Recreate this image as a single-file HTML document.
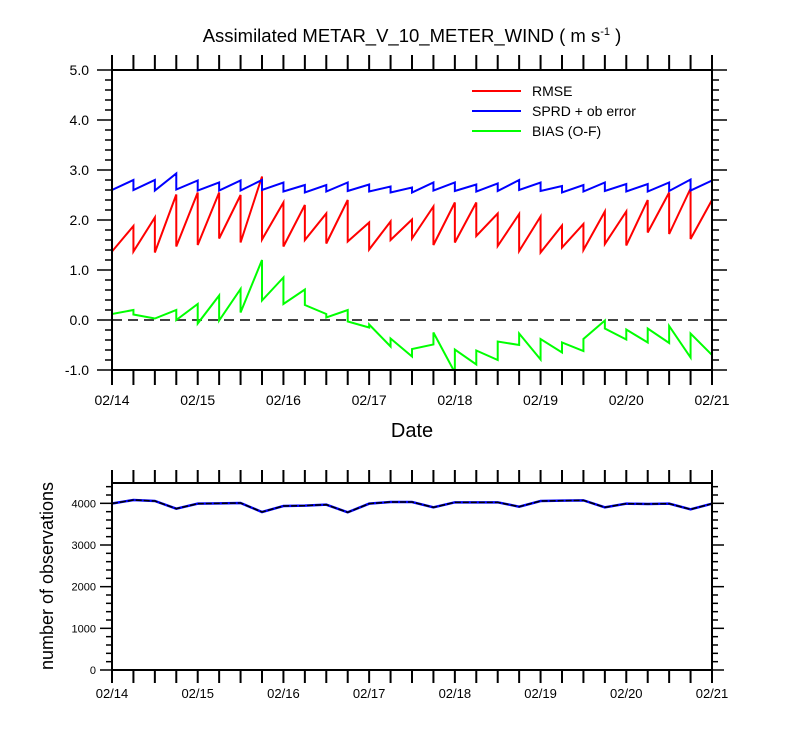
<!DOCTYPE html>
<html><head><meta charset="utf-8">
<style>
html,body{margin:0;padding:0;background:#fff;}
svg{display:block;font-family:"Liberation Sans",Arial,sans-serif;}
</style></head>
<body>
<svg id="chart" width="800" height="750" viewBox="0 0 800 750" xmlns="http://www.w3.org/2000/svg">
  <text x="412" y="42" font-size="18.5" text-anchor="middle">Assimilated METAR_V_10_METER_WIND ( m s<tspan font-size="11" dy="-7">-1</tspan><tspan dy="7"> )</tspan></text>
  <text x="412" y="437" font-size="20" text-anchor="middle">Date</text>
  <text transform="translate(53,576) rotate(-90)" font-size="18" text-anchor="middle">number of observations</text>
  <g id="topPanel"></g>
  <g id="botPanel"></g>
  <g id="legend"></g>
</svg>
<script>
// ---- data (6-hourly cycles, 02/14 00Z to 02/21 00Z) ----
const dateLabels = ["02/14","02/15","02/16","02/17","02/18","02/19","02/20","02/21"];
const yTicksTop = [-1.0,0.0,1.0,2.0,3.0,4.0,5.0];
const yTicksBot = [0,1000,2000,3000,4000];
// prior (forecast) values arriving at each cycle, and posterior values leaving it
const rmsePrior = [1.88,1.88,2.05,2.51,2.55,2.55,2.50,2.87,2.35,2.30,2.13,2.40,1.95,1.97,2.01,2.27,2.35,2.35,2.13,2.12,2.07,1.89,1.92,2.17,2.17,2.40,2.55,2.63,2.40];
const rmsePost  = [1.37,1.37,1.35,1.47,1.50,1.63,1.55,1.61,1.47,1.60,1.53,1.57,1.41,1.60,1.63,1.50,1.55,1.68,1.48,1.38,1.35,1.45,1.40,1.52,1.49,1.75,1.72,1.62,1.48];
const sprdPrior = [2.60,2.80,2.80,2.93,2.79,2.75,2.79,2.80,2.75,2.70,2.70,2.75,2.71,2.67,2.65,2.75,2.75,2.71,2.73,2.80,2.75,2.68,2.70,2.75,2.72,2.72,2.75,2.81,2.79];
const sprdPost  = [2.60,2.60,2.59,2.61,2.59,2.59,2.59,2.60,2.57,2.55,2.57,2.58,2.57,2.55,2.55,2.59,2.58,2.57,2.58,2.60,2.58,2.55,2.57,2.58,2.57,2.57,2.58,2.59,2.79];
const biasPrior = [0.27,0.20,0.03,0.20,0.32,0.49,0.62,1.20,0.85,0.61,0.12,0.20,-0.15,-0.53,-0.73,-0.49,-1.05,-0.89,-0.80,-0.50,-0.79,-0.65,-0.62,-0.01,-0.39,-0.45,-0.46,-0.75,-0.70];
const biasPost  = [0.12,0.11,0.03,0.00,-0.07,-0.01,0.15,0.39,0.32,0.30,0.05,-0.03,-0.09,-0.37,-0.58,-0.25,-0.59,-0.61,-0.43,-0.27,-0.38,-0.45,-0.38,-0.17,-0.19,-0.17,-0.12,-0.27,-0.30];
const obsCount  = [3995,4080,4056,3872,3992,4000,4008,3792,3936,3944,3968,3784,3992,4032,4032,3904,4024,4024,4024,3920,4056,4064,4072,3904,3992,3984,3992,3856,3992];

const NS="http://www.w3.org/2000/svg";
const X0=112, X1=712, NC=28;
const xs = i => X0 + (X1-X0)*i/NC;
const yTop = v => 320 - v*50;
const yBot = v => 670 - v*0.041667;
function mk(parent,tag,attrs){const e=document.createElementNS(NS,tag);for(const k in attrs)e.setAttribute(k,attrs[k]);parent.appendChild(e);return e;}
const topG=document.getElementById('topPanel'), botG=document.getElementById('botPanel'), leg=document.getElementById('legend');

function saw(prior,post){
  let d=`M${xs(0)},${yTop(prior[0])} L${xs(0)},${yTop(post[0])}`;
  for(let i=1;i<=NC;i++){d+=` L${xs(i)},${yTop(prior[i])} L${xs(i)},${yTop(post[i])}`;}
  return d;
}
const defs=mk(document.getElementById('chart'),'defs',{});
const cp=mk(defs,'clipPath',{id:'clipTop'});mk(cp,'rect',{x:X0,y:70,width:X1-X0,height:300});

let z=mk(topG,'line',{x1:X0,x2:X1,y1:yTop(0),y2:yTop(0),stroke:'#444','stroke-width':2,'stroke-dasharray':'10,6'});


const series=[["rmse-line","#ff0000",rmsePrior,rmsePost],["sprd-line","#0000ff",sprdPrior,sprdPost],["bias-line","#00ff00",biasPrior,biasPost]];
series.forEach(s=>{
  const p=mk(topG,'path',{d:saw(s[2],s[3]),fill:'none',stroke:s[1],'stroke-width':2,'clip-path':'url(#clipTop)'});
  
  
});
let f=mk(topG,'rect',{x:X0,y:70,width:X1-X0,height:300,fill:'none',stroke:'#000','stroke-width':2});


for(let i=0;i<=NC;i++){
  mk(topG,'line',{x1:xs(i),x2:xs(i),y1:70,y2:55,stroke:'#000','stroke-width':2});
  mk(topG,'line',{x1:xs(i),x2:xs(i),y1:370,y2:385,stroke:'#000','stroke-width':2});
}
dateLabels.forEach((l,k)=>{
  const t=mk(topG,'text',{x:xs(k*4),y:405,'font-size':14,'text-anchor':'middle'});t.textContent=l;
  
  
});
for(let v=-1;v<=5.0001;v+=0.2){
  const y=yTop(v);const major=Math.abs(v-Math.round(v))<1e-6;const L=major?15:7;
  mk(topG,'line',{x1:X0,x2:X0-L,y1:y,y2:y,stroke:'#000','stroke-width':1.5});
  mk(topG,'line',{x1:X1,x2:X1+L,y1:y,y2:y,stroke:'#000','stroke-width':1.5});
}
yTicksTop.forEach(v=>{
  const t=mk(topG,'text',{x:89,y:yTop(v)+5,'font-size':14,'text-anchor':'end'});t.textContent=v.toFixed(1);
  
  
});
[["RMSE","#ff0000",91],["SPRD + ob error","#0000ff",111],["BIAS (O-F)","#00ff00",131]].forEach(e=>{
  const g=mk(leg,'g',{});
  
  
  mk(g,'line',{x1:472,x2:521,y1:e[2],y2:e[2],stroke:e[1],'stroke-width':2});
  const t=mk(g,'text',{x:532,y:e[2]+5,'font-size':14});t.textContent=e[0];
});

const BT=483;
let d=`M${xs(0)},${yBot(obsCount[0])}`;for(let i=1;i<=NC;i++)d+=` L${xs(i)},${yBot(obsCount[i])}`;
let b1=mk(botG,'path',{d:d,fill:'none',stroke:'#0000ff','stroke-width':2.5});


let b2=mk(botG,'path',{d:d,fill:'none',stroke:'#000','stroke-width':1.5,'stroke-dasharray':'6,2'});


let f2=mk(botG,'rect',{x:X0,y:BT,width:X1-X0,height:670-BT,fill:'none',stroke:'#000','stroke-width':2});


for(let i=0;i<=NC;i++){
  mk(botG,'line',{x1:xs(i),x2:xs(i),y1:BT,y2:BT-13,stroke:'#000','stroke-width':2});
  mk(botG,'line',{x1:xs(i),x2:xs(i),y1:670,y2:683,stroke:'#000','stroke-width':2});
}
for(let v=0;v<=4400;v+=200){
  const y=yBot(v);const major=v%1000===0;const L=major?12:6;
  mk(botG,'line',{x1:X0,x2:X0-L,y1:y,y2:y,stroke:'#000','stroke-width':1.5});
  mk(botG,'line',{x1:X1,x2:X1+L,y1:y,y2:y,stroke:'#000','stroke-width':1.5});
}
yTicksBot.forEach(v=>{
  const t=mk(botG,'text',{x:96,y:yBot(v)+4,'font-size':11,'text-anchor':'end'});t.textContent=String(v);
  
  
});
dateLabels.forEach((l,k)=>{
  const t=mk(botG,'text',{x:xs(k*4),y:698,'font-size':13,'text-anchor':'middle'});t.textContent=l;
  
  
});
</script>
</body></html>
